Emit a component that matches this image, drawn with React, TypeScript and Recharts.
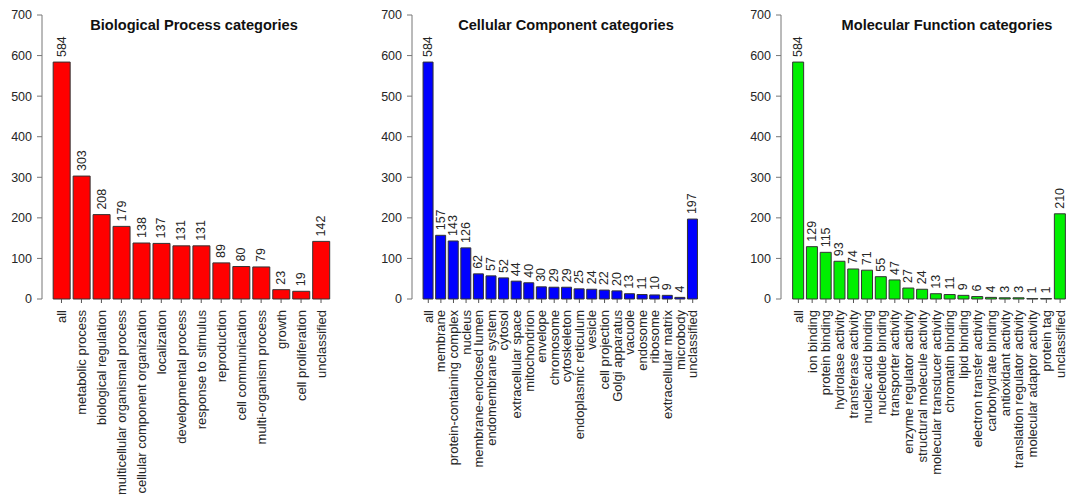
import React from 'react'
import { BarChart, Bar, XAxis, YAxis, LabelList } from 'recharts'

const bpCategories = [
  'all', 'metabolic process', 'biological regulation', 'multicellular organismal process',
  'cellular component organization', 'localization', 'developmental process',
  'response to stimulus', 'reproduction', 'cell communication', 'multi-organism process',
  'growth', 'cell proliferation', 'unclassified',
]
const bpValues = [584, 303, 208, 179, 138, 137, 131, 131, 89, 80, 79, 23, 19, 142]

const ccCategories = [
  'all', 'membrane', 'protein-containing complex', 'nucleus', 'membrane-enclosed lumen',
  'endomembrane system', 'cytosol', 'extracellular space', 'mitochondrion', 'envelope',
  'chromosome', 'cytoskeleton', 'endoplasmic reticulum', 'vesicle', 'cell projection',
  'Golgi apparatus', 'vacuole', 'endosome', 'ribosome', 'extracellular matrix',
  'microbody', 'unclassified',
]
const ccValues = [584, 157, 143, 126, 62, 57, 52, 44, 40, 30, 29, 29, 25, 24, 22, 20, 13, 11, 10, 9, 4, 197]

const mfCategories = [
  'all', 'ion binding', 'protein binding', 'hydrolase activity', 'transferase activity',
  'nucleic acid binding', 'nucleotide binding', 'transporter activity',
  'enzyme regulator activity', 'structural molecule activity',
  'molecular transducer activity', 'chromatin binding', 'lipid binding',
  'electron transfer activity', 'carbohydrate binding', 'antioxidant activity',
  'translation regulator activity', 'molecular adaptor activity', 'protein tag',
  'unclassified',
]
const mfValues = [584, 129, 115, 93, 74, 71, 55, 47, 27, 24, 13, 11, 9, 6, 4, 3, 3, 1, 1, 210]

const yTicks = [0, 100, 200, 300, 400, 500, 600, 700]

const FONT = '"Liberation Sans", Arial, Helvetica, sans-serif'
const TEXT = '#262626'

function CategoryTick(props: any) {
  const { x, y, payload } = props
  const ty = y + 5
  return (
    <text
      x={x}
      y={ty}
      transform={`rotate(-90, ${x}, ${ty})`}
      textAnchor="end"
      dominantBaseline="central"
      fontSize={13}
      fontFamily={FONT}
      fill={TEXT}
    >
      {payload.value}
    </text>
  )
}

function ValueLabel(props: any) {
  const { x, y, width, value } = props
  const cx = x + width / 2
  const cy = y - 5
  return (
    <text
      x={cx}
      y={cy}
      transform={`rotate(-90, ${cx}, ${cy})`}
      textAnchor="start"
      dominantBaseline="central"
      fontSize={12.5}
      fontFamily={FONT}
      fill={TEXT}
    >
      {value}
    </text>
  )
}

interface PanelProps {
  title: string
  categories: string[]
  values: number[]
  color: string
  left: number
  width: number
  padLeft: number
  titleCenter: number
}

function Panel({ title, categories, values, color, left, width, padLeft, titleCenter }: PanelProps) {
  const data = categories.map((name, i) => ({ name, value: values[i] }))
  return (
    <>
      <div
        style={{
          position: 'absolute',
          left: titleCenter - 160,
          width: 320,
          top: 16,
          textAlign: 'center',
          fontFamily: FONT,
          fontWeight: 'bold',
          fontSize: 14.6,
          lineHeight: '18px',
          color: '#111',
        }}
      >
        {title}
      </div>
      <div style={{ position: 'absolute', left, top: 0 }}>
        <BarChart
          width={width}
          height={498}
          data={data}
          margin={{ top: 15, right: 0, bottom: 0, left: 0 }}
          barCategoryGap="8.33%"
        >
          <XAxis
            dataKey="name"
            interval={0}
            axisLine={false}
            tickLine={{ stroke: '#555' }}
            tickSize={4}
            padding={{ left: padLeft, right: 0 }}
            height={199}
            tick={<CategoryTick />}
          />
          <YAxis
            width={42}
            domain={[0, 700]}
            ticks={yTicks}
            interval={0}
            axisLine={{ stroke: '#777' }}
            tickLine={{ stroke: '#777' }}
            tickSize={5}
            tickMargin={5}
            tick={{ fontSize: 12.5, fontFamily: FONT, fill: TEXT }}
          />
          <Bar dataKey="value" fill={color} stroke="#333" strokeWidth={1} isAnimationActive={false}>
            <LabelList dataKey="value" content={<ValueLabel />} />
          </Bar>
        </BarChart>
      </div>
    </>
  )
}

export default function App() {
  return (
    <div
      style={{
        position: 'absolute',
        left: 0,
        top: 0,
        width: 1067,
        height: 498,
        background: '#fff',
        overflow: 'hidden',
      }}
    >
      <Panel
        title="Biological Process categories"
        categories={bpCategories}
        values={bpValues}
        color="#ff0000"
        left={0}
        width={331}
        padLeft={9.5}
        titleCenter={194}
      />
      <Panel
        title="Cellular Component categories"
        categories={ccCategories}
        values={ccValues}
        color="#0000ff"
        left={370}
        width={329}
        padLeft={10}
        titleCenter={566}
      />
      <Panel
        title="Molecular Function categories"
        categories={mfCategories}
        values={mfValues}
        color="#00f000"
        left={739}
        width={328}
        padLeft={10.5}
        titleCenter={947}
      />
    </div>
  )
}
